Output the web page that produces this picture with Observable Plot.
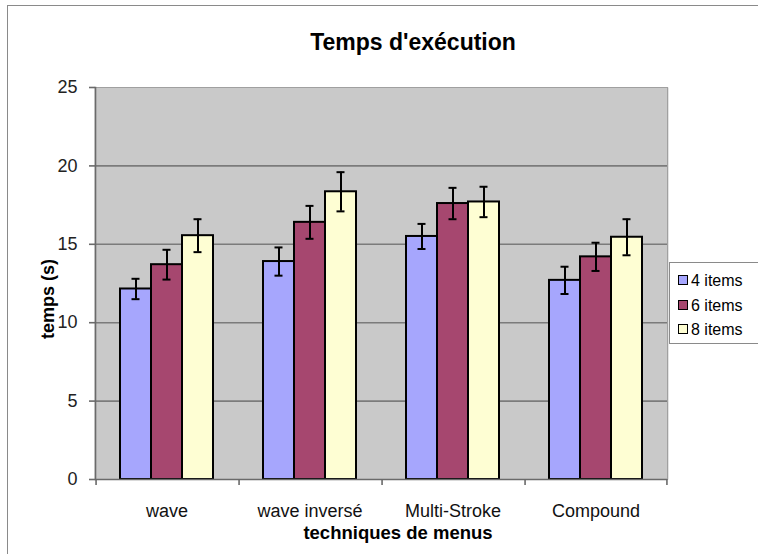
<!DOCTYPE html>
<html>
<head>
<meta charset="utf-8">
<script src="https://cdn.jsdelivr.net/npm/d3@7"></script>
<script src="https://cdn.jsdelivr.net/npm/@observablehq/plot@0.6"></script>
<style>
  html, body { margin: 0; padding: 0; background: #fff; }
  #wrap { position: relative; width: 758px; height: 554px; overflow: hidden; font-family: "Liberation Sans", Arial, sans-serif; }
  #frame { position: absolute; left: 7px; top: 5px; width: 800px; height: 600px; border-left: 1px solid #8a8a8a; border-top: 1px solid #8a8a8a; }
  #title { position: absolute; left: 0; width: 826px; top: 29px; text-align: center; font-weight: bold; font-size: 23px; }
  #ytitle { position: absolute; left: 48px; top: 299px; transform: translate(-50%, -50%) rotate(-90deg); font-weight: bold; font-size: 18px; white-space: nowrap; }
  #xtitle { position: absolute; left: 398px; top: 533px; transform: translate(-50%, -50%); font-weight: bold; font-size: 18.5px; white-space: nowrap; }
  #chart { position: absolute; left: 0; top: 0; }
  #legend { position: absolute; left: 669px; top: 262px; width: 100px; height: 82px; background: #fff; border: 1px solid #8a8a8a; box-sizing: border-box; }
  .item { position: absolute; left: 8px; font-size: 16px; line-height: 18px; white-space: nowrap; }
  .sw { display: inline-block; width: 8px; height: 8px; border: 1px solid #000; margin-right: 3px; vertical-align: 1px; }
</style>
</head>
<body>
<div id="wrap">
  <div id="frame"></div>
  <div id="chart"></div>
  <div id="title">Temps d'exécution</div>
  <div id="ytitle">temps (s)</div>
  <div id="xtitle">techniques de menus</div>
  <div id="legend"></div>
</div>
<script>
const categories = ["wave", "wave inversé", "Multi-Stroke", "Compound"];
const series = ["4 items", "6 items", "8 items"];
const means4 = [12.15, 13.9, 15.5, 12.7];
const means6 = [13.7, 16.4, 17.6, 14.2];
const means8 = [15.55, 18.35, 17.7, 15.45];
const err4 = [0.65, 0.9, 0.8, 0.87];
const err6 = [0.95, 1.05, 1.0, 0.9];
const err8 = [1.05, 1.25, 0.97, 1.15];
const yTicks = [0, 5, 10, 15, 20, 25];
const colors = ["#a6a6fd", "#a6476f", "#fefed3"];

const means = [means4, means6, means8];
const errs = [err4, err6, err8];
const data = [];
categories.forEach((c, i) => series.forEach((s, j) => data.push({category: c, series: s, value: means[j][i], err: errs[j][i]})));

const W = 758, H = 554, mL = 93, mR = 90, mT = 87, mB = 75;
const facetW = (W - mL - mR) / categories.length;
const step = facetW / (series.length + 1.5);
const edgeOff = 1.25 * step;
const axisGray = "#6a6a6a";

const chart = Plot.plot({
  width: W, height: H,
  marginLeft: mL, marginRight: mR, marginTop: mT, marginBottom: mB,
  style: {fontFamily: "'Liberation Sans', Arial, sans-serif", fontSize: "18px", color: "#000", background: "transparent"},
  fx: {domain: categories, padding: 0, label: null},
  x: {domain: series, paddingInner: 0, paddingOuter: 0.75, axis: null},
  y: {domain: [0, 25], label: null},
  color: {domain: series, range: colors},
  marks: [
    Plot.frame({fill: "#c9c9c9", stroke: null, insetLeft: -1, insetRight: -1}),
    Plot.gridY([25], {stroke: "#a0a0a0", strokeOpacity: 1, strokeWidth: 1}),
    Plot.gridY([5, 10, 15, 20], {stroke: "#7b7b7b", strokeOpacity: 1, strokeWidth: 1.6}),
    Plot.frame({anchor: "left", facetAnchor: "left", stroke: axisGray, strokeWidth: 1.6}),
    Plot.frame({anchor: "right", facetAnchor: "right", stroke: "#a0a0a0", strokeWidth: 1}),
    Plot.axisY({ticks: yTicks, tickSize: 6, tickPadding: 12, label: null, stroke: axisGray, strokeWidth: 1.6, fill: "#222", fontSize: 18}),
    Plot.axisFx({anchor: "bottom", tickSize: 0, tickPadding: 25, label: null, fontSize: 18, fill: "#111"}),
    Plot.barY(data, {fx: "category", x: "series", y: "value", fill: "series", stroke: "#000", strokeWidth: 2}),
    Plot.ruleX(data, {fx: "category", x: "series", y1: d => d.value - d.err, y2: d => d.value + d.err, stroke: "#000", strokeWidth: 2}),
    Plot.tickY(data, {fx: "category", x: "series", y: d => d.value - d.err, insetLeft: 11.5, insetRight: 11.5, stroke: "#000", strokeWidth: 2}),
    Plot.tickY(data, {fx: "category", x: "series", y: d => d.value + d.err, insetLeft: 11.5, insetRight: 11.5, stroke: "#000", strokeWidth: 2}),
    Plot.ruleY([0], {stroke: axisGray, strokeWidth: 1.6}),
    Plot.ruleX(categories, {fx: d => d, x: () => series[0], y1: 0, y2: 0, insetBottom: -6, dx: -edgeOff, stroke: axisGray, strokeWidth: 1.6}),
    Plot.ruleX([categories[categories.length - 1]], {fx: d => d, x: () => series[series.length - 1], y1: 0, y2: 0, insetBottom: -6, dx: edgeOff, stroke: axisGray, strokeWidth: 1.6})
  ]
});
document.getElementById("chart").appendChild(chart);

const legend = document.getElementById("legend");
series.forEach((s, j) => {
  const div = document.createElement("div");
  div.className = "item";
  div.style.top = (9 + j * 24.5) + "px";
  const sw = document.createElement("span");
  sw.className = "sw";
  sw.style.background = colors[j];
  div.appendChild(sw);
  div.appendChild(document.createTextNode(s));
  legend.appendChild(div);
});
</script>
</body>
</html>
